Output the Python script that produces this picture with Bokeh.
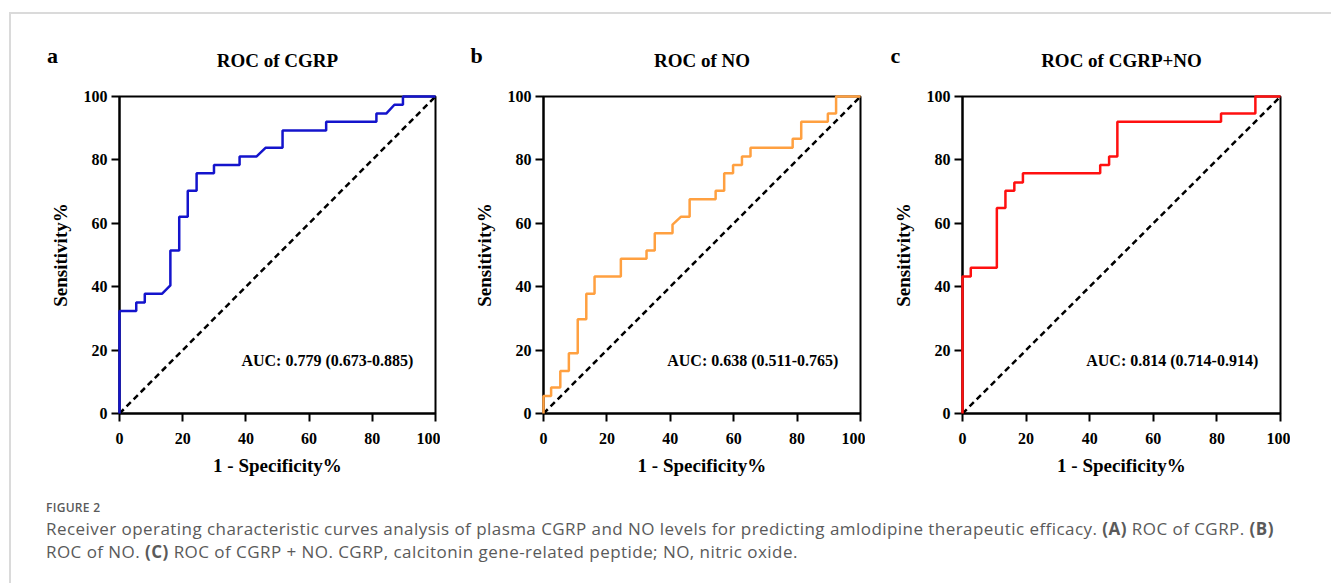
from bokeh.plotting import figure
from bokeh.models import Range1d, Label, Div
from bokeh.layouts import row, column
from bokeh.embed import file_html
from bokeh.resources import INLINE

# ---- data ----
ticks = [0, 20, 40, 60, 80, 100]
diag_x = [0, 100]
diag_y = [0, 100]

cgrp_fpr = [0, 0, 5.3, 5.3, 8.0, 8.0, 13.5, 16.1, 16.1, 18.9, 18.9, 21.6, 21.6, 24.4, 24.4,
            29.9, 29.9, 38.0, 38.0, 43.4, 46.2, 51.6, 51.6, 65.4, 65.4, 81.3, 81.3, 84.4,
            87.0, 89.7, 89.7, 100]
cgrp_tpr = [0, 32.3, 32.3, 35.0, 35.0, 37.8, 37.8, 40.4, 51.4, 51.4, 62.1, 62.1, 70.3, 70.3,
            75.8, 75.8, 78.4, 78.4, 81.1, 81.1, 83.8, 83.8, 89.3, 89.3, 92.0, 92.0, 94.6,
            94.6, 97.4, 97.4, 100, 100]

no_fpr = [0, 0, 2.4, 2.4, 5.3, 5.3, 8.0, 8.0, 10.8, 10.8, 13.5, 13.5, 16.1, 16.1, 24.4, 24.4,
          32.5, 32.5, 35.1, 35.1, 40.7, 40.7, 43.4, 46.1, 46.1, 54.3, 54.3, 57.0, 57.0, 59.8,
          59.8, 62.6, 62.6, 65.3, 65.3, 78.6, 78.6, 81.3, 81.3, 89.7, 89.7, 92.3, 92.3, 100]
no_tpr = [0, 5.5, 5.5, 8.2, 8.2, 13.4, 13.4, 19.0, 19.0, 29.7, 29.7, 37.8, 37.8, 43.2, 43.2,
          48.8, 48.8, 51.4, 51.4, 56.9, 56.9, 59.6, 62.1, 62.1, 67.6, 67.6, 70.3, 70.3, 75.8,
          75.8, 78.4, 78.4, 81.1, 81.1, 83.8, 83.8, 86.7, 86.7, 92.0, 92.0, 94.6, 94.6, 100, 100]

comb_fpr = [0, 0, 2.6, 2.6, 10.8, 10.8, 13.5, 13.5, 16.3, 16.3, 19.0, 19.0, 43.3, 43.3,
            46.1, 46.1, 48.7, 48.7, 81.3, 81.3, 92.1, 92.1, 100]
comb_tpr = [0, 43.2, 43.2, 46.0, 46.0, 64.8, 64.8, 70.3, 70.3, 72.9, 72.9, 75.8, 75.8, 78.4,
            78.4, 81.1, 81.1, 92.0, 92.0, 94.6, 94.6, 100, 100]

titles = ["ROC of CGRP", "ROC of NO", "ROC of CGRP+NO"]
letters = ["a", "b", "c"]
auc_texts = ["AUC: 0.779 (0.673-0.885)", "AUC: 0.638 (0.511-0.765)", "AUC: 0.814 (0.714-0.914)"]
colors = ["#1414cc", "#ffa040", "#ff1010"]
x_label = "1 - Specificity%"
y_label = "Sensitivity%"

SERIF = "Liberation Serif"

# ---- layout constants (pixels) ----
HEADER_H = 74
TOP_B, FRAME_H, BOT_B = 8, 317, 77
# (left border, frame width, right border) of each panel
panel_geom = [(108, 316, 5), (103, 317, 5), (97, 318, 10)]
TOTAL_W = 1320


def make_panel(xs, ys, color, auc, geom):
    lb, fw, rb = geom
    p = figure(frame_width=fw, frame_height=FRAME_H,
               min_border_left=lb, min_border_right=rb,
               min_border_top=TOP_B, min_border_bottom=BOT_B,
               x_range=Range1d(0, 100), y_range=Range1d(0, 100),
               output_backend="svg", toolbar_location=None)
    p.background_fill_color = "white"
    p.border_fill_color = "white"
    p.grid.visible = False
    p.outline_line_color = "black"
    p.outline_line_width = 2
    p.outline_line_alpha = 1.0

    for ax in (p.xaxis[0], p.yaxis[0]):
        ax.ticker = ticks
        ax.axis_line_width = 2
        ax.axis_line_color = "black"
        ax.major_tick_line_width = 2
        ax.major_tick_line_color = "black"
        ax.major_tick_out = 8
        ax.major_tick_in = 0
        ax.minor_tick_line_color = None
        ax.major_label_text_font = SERIF
        ax.major_label_text_font_style = "bold"
        ax.major_label_text_font_size = "16px"
        ax.major_label_text_color = "black"
        ax.axis_label_text_font = SERIF
        ax.axis_label_text_font_style = "bold"
        ax.axis_label_text_font_size = "19px"
        ax.axis_label_text_color = "black"
    p.xaxis.axis_label = x_label
    p.yaxis.axis_label = y_label
    p.xaxis.major_label_standoff = 11
    p.yaxis.major_label_standoff = 4
    p.xaxis.axis_label_standoff = 8
    p.yaxis.axis_label_standoff = 10

    p.line(diag_x, diag_y, line_color="black", line_width=2.5, line_dash="6 4")
    p.line(xs, ys, line_color=color, line_width=2.5, level="overlay")

    p.add_layout(Label(x=93, y=16.7, text=auc, text_align="right", text_baseline="middle",
                       text_font=SERIF, text_font_style="bold", text_font_size="16px",
                       text_color="black"))
    return p


panels = [
    make_panel(cgrp_fpr, cgrp_tpr, colors[0], auc_texts[0], panel_geom[0]),
    make_panel(no_fpr, no_tpr, colors[1], auc_texts[1], panel_geom[1]),
    make_panel(comb_fpr, comb_tpr, colors[2], auc_texts[2], panel_geom[2]),
]

# header strip holding the panel letters and titles (pixel coordinates)
header = figure(width=TOTAL_W, height=HEADER_H, x_range=Range1d(0, TOTAL_W),
                y_range=Range1d(0, HEADER_H), min_border=0,
                x_axis_type=None, y_axis_type=None,
                output_backend="svg", toolbar_location=None)
header.grid.visible = False
header.outline_line_color = None
header.background_fill_color = "white"
header.border_fill_color = "white"

x0 = 0
for (lb, fw, rb), title, letter in zip(panel_geom, titles, letters):
    frame_left = x0 + lb
    header.add_layout(Label(x=frame_left + fw / 2, y=HEADER_H - 46, text=title,
                            text_align="center", text_baseline="middle", text_font=SERIF,
                            text_font_style="bold", text_font_size="19px", text_color="black"))
    header.add_layout(Label(x=frame_left - 67, y=HEADER_H - 41, text=letter,
                            text_align="center", text_baseline="middle", text_font=SERIF,
                            text_font_style="bold", text_font_size="22px", text_color="black"))
    x0 += lb + fw + rb

caption_html = (
    '<div style="font-family:\'Open Sans\',sans-serif;color:#5a5a5a;padding:4px 0 0 30px;">'
    '<div style="font-size:12px;line-height:18px;font-weight:600;letter-spacing:0.3px;">FIGURE 2</div>'
    '<div style="font-size:17px;line-height:23px;letter-spacing:0.45px;white-space:nowrap;">'
    'Receiver operating characteristic curves analysis of plasma CGRP and NO levels for '
    'predicting amlodipine therapeutic efficacy. <b>(A)</b> ROC of CGRP. <b>(B)</b><br>'
    'ROC of NO. <b>(C)</b> ROC of CGRP + NO. CGRP, calcitonin gene-related peptide; NO, nitric oxide.'
    '</div></div>'
)
caption = Div(text=caption_html, width=TOTAL_W - 20, height=95)

inner = column(header, row(*panels), caption,
               styles={"border-top": "2px solid #dadada", "border-left": "2px solid #dadada"},
               margin=(12, 0, 0, 9))

open("out.html", "w").write(file_html(inner, INLINE))
